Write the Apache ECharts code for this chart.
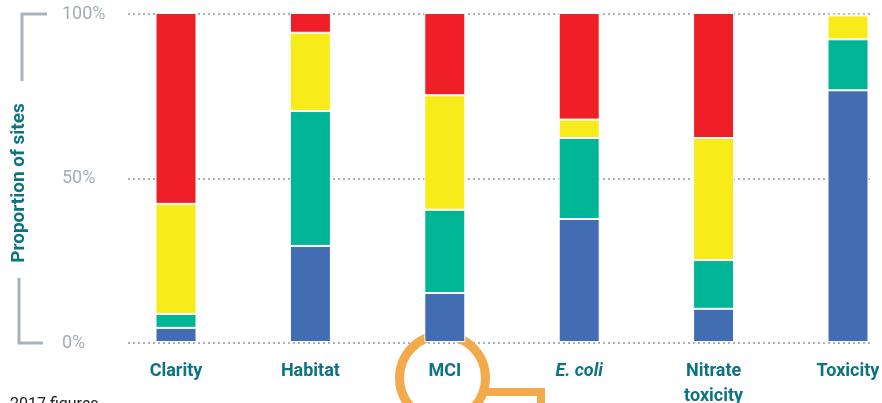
<!DOCTYPE html>
<html>
<head>
<meta charset="utf-8">
<style>
  html, body { margin: 0; padding: 0; background: #fff; }
  #chart { width: 882px; height: 403px; }
</style>
<script src="https://cdn.jsdelivr.net/npm/echarts@6/dist/echarts.min.js"></script>
</head>
<body>
<div id="chart"></div>
<script>
// Indicator categories along the bottom
const categories = ['Clarity', 'Habitat', 'MCI', 'E. coli', 'Nitrate\ntoxicity', 'Toxicity'];

// Proportion of sites (%) in each state band, stacked bottom to top
const bandBlue   = [4.3, 29.2, 14.9, 37.4, 10.1, 76.5];
const bandTeal   = [4.2, 41.0, 25.3, 24.6, 14.8, 15.5];
const bandYellow = [33.5, 23.8, 34.8, 5.6, 37.1, 7.3];
const bandRed    = [58.0, 6.0, 25.0, 32.4, 38.0, 0];

// Value-axis tick labels
const yTicks = [0, 50, 100];

const colors = {
  blue: '#426DB3',
  teal: '#00B496',
  yellow: '#F7EB1A',
  red: '#EE1F26'
};

const TEAL_TEXT = '#0B7383';
const GREY = '#A8B4BD';

const chart = echarts.init(document.getElementById('chart'));

function band(name, data, color) {
  return {
    name: name,
    type: 'bar',
    stack: 'sites',
    xAxisIndex: 1,
    yAxisIndex: 1,
    barWidth: 41,
    clip: false,
    data: data,
    itemStyle: { color: color, borderColor: '#ffffff', borderWidth: 1 },
    z: 3
  };
}

const option = {
  animation: false,
  backgroundColor: '#ffffff',
  grid: [
    // frame for the dotted reference lines and percentage labels
    { left: 128, right: 12, top: 14, bottom: 60, outerBoundsMode: 'none', containLabel: false },
    // frame for the bars: first and last category sit on the edges
    { left: 176, right: 34, top: 13, bottom: 61, outerBoundsMode: 'none', containLabel: false }
  ],
  xAxis: [
    { type: 'value', gridIndex: 0, show: false, min: 0, max: 1 },
    {
      type: 'category',
      gridIndex: 1,
      data: categories,
      boundaryGap: false,
      axisLine: { show: false },
      axisTick: { show: false },
      splitLine: { show: false },
      axisLabel: {
        interval: 0,
        margin: 17,
        color: TEAL_TEXT,
        fontFamily: 'Roboto',
        fontWeight: 'bold',
        fontSize: 18,
        lineHeight: 25,
        formatter: function (v) {
          return v === 'E. coli' ? '{i|' + v + '}' : v;
        },
        rich: {
          i: {
            fontStyle: 'italic',
            fontWeight: 'bold',
            fontFamily: 'Roboto',
            fontSize: 18,
            color: TEAL_TEXT
          }
        }
      }
    }
  ],
  yAxis: [
    {
      type: 'value',
      gridIndex: 0,
      min: 0,
      max: 100,
      interval: 50,
      axisLine: { show: false },
      axisTick: { show: false },
      splitLine: {
        show: true,
        lineStyle: { color: GREY, width: 2, type: [2, 3] }
      },
      axisLabel: {
        margin: 66,
        align: 'left',
        color: '#A3AEB7',
        fontFamily: 'Roboto',
        fontSize: 18,
        formatter: function (v) {
          return yTicks.indexOf(v) >= 0 ? v + '%' : '';
        }
      }
    },
    { type: 'value', gridIndex: 1, min: 0, max: 100, show: false }
  ],
  series: [
    band('Blue', bandBlue, colors.blue),
    band('Teal', bandTeal, colors.teal),
    band('Yellow', bandYellow, colors.yellow),
    band('Red', bandRed, colors.red)
  ],
  graphic: [
    {
      type: 'text',
      x: 19,
      y: 183,
      rotation: Math.PI / 2,
      style: {
        text: 'Proportion of sites',
        fill: TEAL_TEXT,
        font: 'bold 19px Roboto',
        textAlign: 'center',
        textVerticalAlign: 'middle'
      }
    },
    {
      type: 'polyline',
      shape: { points: [[47, 14], [22, 14], [22, 81]] },
      style: { stroke: GREY, lineWidth: 3, fill: null }
    },
    {
      type: 'polyline',
      shape: { points: [[19, 278], [19, 343], [43, 343]] },
      style: { stroke: GREY, lineWidth: 3, fill: null }
    },
    {
      type: 'circle',
      z: 1,
      shape: { cx: 442.5, cy: 378, r: 43 },
      style: { stroke: '#F2AA4A', lineWidth: 9, fill: null }
    },
    {
      type: 'polyline',
      z: 1,
      shape: { points: [[482, 392], [541, 392], [541, 420]] },
      style: { stroke: '#F2AA4A', lineWidth: 8, fill: null }
    },
    {
      type: 'text',
      x: 10,
      y: 397,
      style: {
        text: '2017 figures',
        fill: '#222222',
        font: '16px Roboto',
        textVerticalAlign: 'top'
      }
    }
  ]
};

chart.setOption(option);
</script>
</body>
</html>
